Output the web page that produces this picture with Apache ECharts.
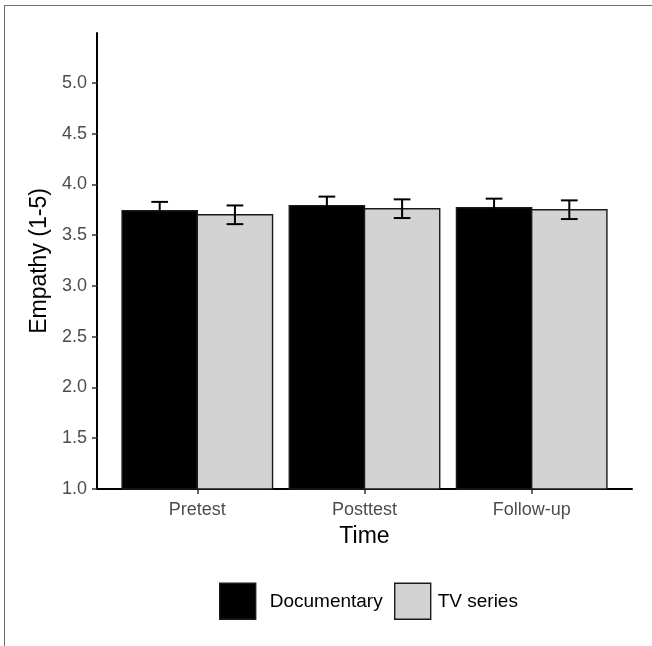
<!DOCTYPE html>
<html>
<head>
<meta charset="utf-8">
<script src="https://cdn.jsdelivr.net/npm/echarts@6/dist/echarts.min.js"></script>
<style>
  html, body { margin: 0; padding: 0; background: #fff; }
  #frame {
    position: absolute; left: 4px; top: 5px; width: 648px; height: 641px;
    border-left: 1px solid #6e6e6e; border-top: 1px solid #6e6e6e;
  }
  #chart_id { position: absolute; left: 0; top: 0; width: 652px; height: 646px; }
</style>
</head>
<body>
<div id="frame"></div>
<div id="chart_id"></div>
<script>
var categories = ['Pretest', 'Posttest', 'Follow-up'];
var seriesNames = ['Documentary', 'TV series'];
var documentary = [3.74, 3.79, 3.77];
var documentarySe = [0.087, 0.089, 0.089];
var tvSeries = [3.70, 3.76, 3.75];
var tvSeriesSe = [0.092, 0.092, 0.092];
var yTicks = [1.0, 1.5, 2.0, 2.5, 3.0, 3.5, 4.0, 4.5, 5.0];

var fills = ['#000000', '#d3d3d3'];
var dodge = 0.9;

// each bar + its error bar, positioned through the axes
function makeRender(idx) {
  return function (params, api) {
    var x = api.value(0), v = api.value(1), se = api.value(2);
    var w = dodge / 2;
    var cx = x - dodge / 2 + w * idx + w / 2;
    var left = api.coord([cx - w / 2, v]);
    var right = api.coord([cx + w / 2, 1]);
    var top = api.coord([cx, v + se]);
    var bot = api.coord([cx, v - se]);
    var capL = api.coord([cx - 0.05, v])[0];
    var capR = api.coord([cx + 0.05, v])[0];
    return {
      type: 'group',
      children: [
        {
          type: 'rect',
          shape: { x: left[0], y: left[1], width: right[0] - left[0], height: right[1] - left[1] },
          style: { fill: fills[idx], stroke: '#1a1a1a', lineWidth: 1.4 }
        },
        { type: 'line', shape: { x1: top[0], y1: top[1], x2: bot[0], y2: bot[1] }, style: { stroke: '#000', lineWidth: 2 } },
        { type: 'line', shape: { x1: capL, y1: top[1], x2: capR, y2: top[1] }, style: { stroke: '#000', lineWidth: 2 } },
        { type: 'line', shape: { x1: capL, y1: bot[1], x2: capR, y2: bot[1] }, style: { stroke: '#000', lineWidth: 2 } }
      ]
    };
  };
}

function rows(vals, ses) {
  return vals.map(function (v, i) { return [i + 1, v, ses[i]]; });
}

function legendItem(i, left, pad) {
  return {
    left: left,
    bottom: 26,
    padding: 0,
    itemWidth: 36,
    itemHeight: 36,
    selectedMode: false,
    textStyle: { fontSize: 19, color: '#000', padding: [0, 0, 0, pad] },
    data: [{ name: seriesNames[i], icon: 'rect', itemStyle: { color: fills[i], borderColor: '#1a1a1a', borderWidth: 1.4 } }]
  };
}

var chart = echarts.init(document.getElementById('chart_id'));
var option = {
  animation: false,
  textStyle: { fontFamily: 'Liberation Sans, Arial, sans-serif' },
  grid: { left: 97, right: 20, top: 33, bottom: 157, containLabel: false },
  legend: [legendItem(0, 219, 9), legendItem(1, 394, 2)],
  xAxis: {
    type: 'value',
    min: 0.4,
    max: 3.6,
    name: 'Time',
    nameLocation: 'middle',
    nameGap: 36,
    nameTextStyle: { fontSize: 23, color: '#000' },
    splitLine: { show: false },
    axisLine: { show: true, onZero: false, lineStyle: { color: '#000', width: 2 } },
    axisTick: { show: true, length: 5, customValues: [1, 2, 3], lineStyle: { color: '#333', width: 1.5 } },
    axisLabel: {
      customValues: [1, 2, 3],
      margin: 12,
      fontSize: 18,
      color: '#4d4d4d',
      formatter: function (v) { return categories[Math.round(v) - 1] || ''; }
    }
  },
  yAxis: {
    type: 'value',
    min: 1,
    max: 5.49,
    name: 'Empathy (1-5)',
    nameLocation: 'middle',
    nameGap: 45,
    nameTextStyle: { fontSize: 23, color: '#000' },
    splitLine: { show: false },
    axisLine: { show: true, onZero: false, lineStyle: { color: '#000', width: 2 } },
    axisTick: { show: true, length: 5, customValues: yTicks, lineStyle: { color: '#333', width: 1.5 } },
    axisLabel: {
      customValues: yTicks,
      margin: 10,
      fontSize: 18,
      color: '#4d4d4d',
      formatter: function (v) { return v.toFixed(1); }
    }
  },
  series: [
    {
      name: seriesNames[0],
      type: 'custom',
      itemStyle: { color: fills[0] },
      renderItem: makeRender(0),
      encode: { x: 0, y: 1 },
      data: rows(documentary, documentarySe)
    },
    {
      name: seriesNames[1],
      type: 'custom',
      itemStyle: { color: fills[1] },
      renderItem: makeRender(1),
      encode: { x: 0, y: 1 },
      data: rows(tvSeries, tvSeriesSe)
    }
  ]
};
chart.setOption(option);
</script>
</body>
</html>
